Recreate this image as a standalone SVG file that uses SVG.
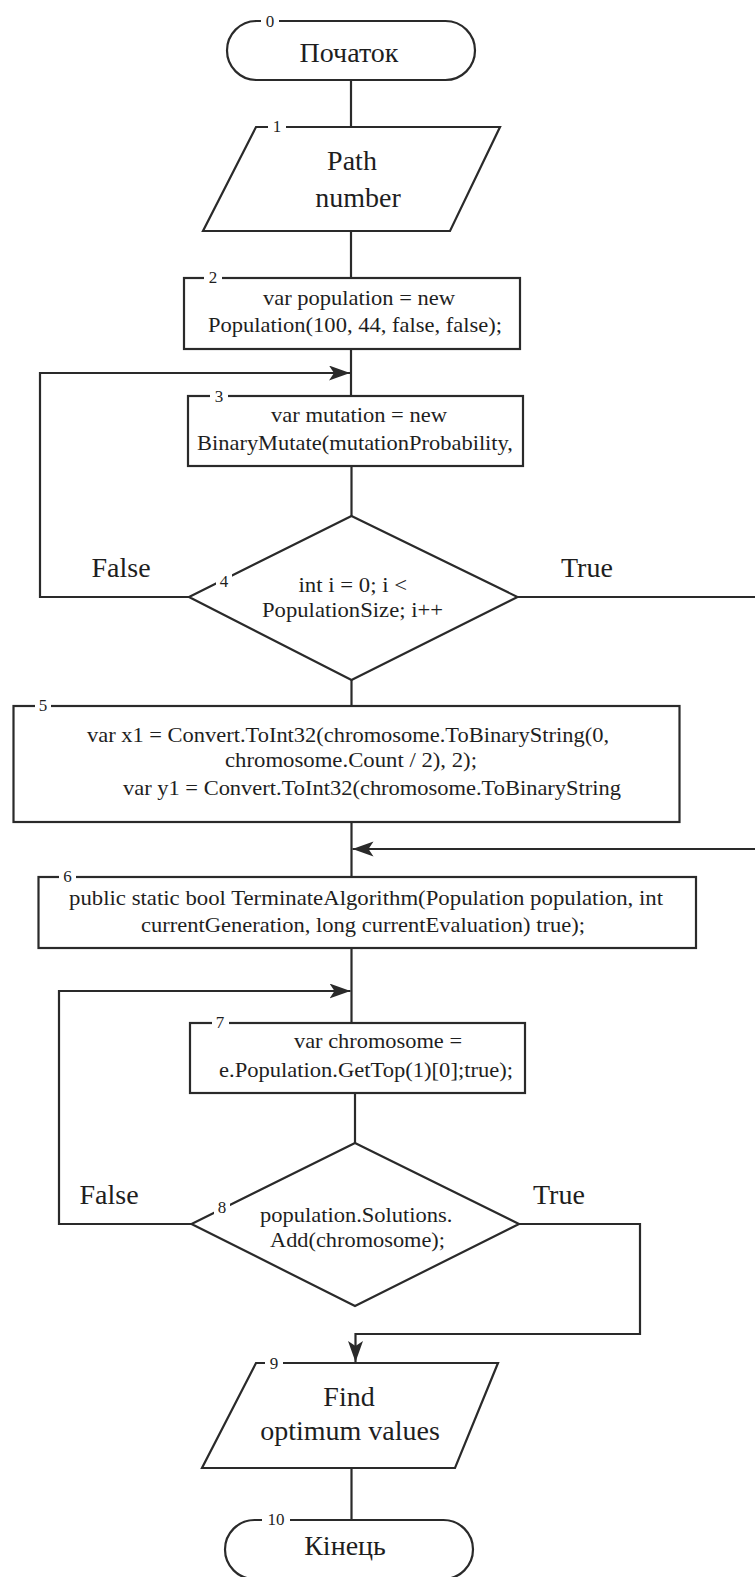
<svg xmlns="http://www.w3.org/2000/svg" width="755" height="1577" viewBox="0 0 755 1577">
<style>
.sh{fill:#fff;stroke:#2a2a2a;stroke-width:2.2}
.ln{fill:none;stroke:#2a2a2a;stroke-width:2.2}
.t{font-family:"Liberation Serif","Times New Roman",serif;fill:#1e1e1e}
.big{font-size:28px}
.code{font-size:22px}
.lab{font-family:"Liberation Serif","Times New Roman",serif;font-size:17px;fill:#1e1e1e;text-anchor:middle}
.bg{fill:#fff}
.c{text-anchor:middle}
</style>
<defs>
<marker id="arr" markerUnits="userSpaceOnUse" markerWidth="22" markerHeight="16" refX="21" refY="7.5" orient="auto">
<path d="M0,0 L21,7.5 L0,15 L5,7.5 Z" fill="#2a2a2a"/>
</marker>
</defs>

<g id="connectors">
<line class="ln" x1="351" y1="80" x2="351" y2="127"/>
<line class="ln" x1="351" y1="231" x2="351" y2="278"/>
<line class="ln" x1="351" y1="349" x2="351" y2="396"/>
<path class="ln" d="M189,597 H40 V373 H350" marker-end="url(#arr)"/>
<line class="ln" x1="351.5" y1="466" x2="351.5" y2="516"/>
<line class="ln" x1="351.5" y1="680" x2="351.5" y2="706"/>
<path class="ln" d="M517.5,597 H758 V849 H352.5" marker-end="url(#arr)"/>
<line class="ln" x1="351.5" y1="822" x2="351.5" y2="877"/>
<line class="ln" x1="351.5" y1="948" x2="351.5" y2="1023"/>
<line class="ln" x1="355" y1="1093" x2="355" y2="1143"/>
<path class="ln" d="M191.5,1224 H59 V991 H350.5" marker-end="url(#arr)"/>
<path class="ln" d="M519,1224 H640 V1334 H355.5 V1362" marker-end="url(#arr)"/>
<line class="ln" x1="351.5" y1="1468" x2="351.5" y2="1520"/>
</g>

<g id="node0">
<rect class="sh" x="227" y="21" width="248" height="59" rx="29.5" ry="29.5"/>
<rect class="bg" x="261" y="13" width="18" height="16"/>
<text class="lab" x="270" y="27">0</text>
<text class="t big c" x="349" y="62">Початок</text>
</g>

<g id="node1">
<polygon class="sh" points="256,127 500,127 450,231 203,231"/>
<rect class="bg" x="268" y="119" width="18" height="16"/>
<text class="lab" x="277" y="132">1</text>
<text class="t big c" x="352" y="170">Path</text>
<text class="t big c" x="358" y="207">number</text>
</g>

<g id="node2">
<rect class="sh" x="184" y="278" width="336" height="71"/>
<rect class="bg" x="204" y="270" width="18" height="16"/>
<text class="lab" x="213" y="283">2</text>
<text class="t code" x="263" y="305" textLength="192" lengthAdjust="spacingAndGlyphs">var population = new</text>
<text class="t code" x="208" y="332" textLength="294" lengthAdjust="spacingAndGlyphs">Population(100, 44, false, false);</text>
</g>

<g id="node3">
<rect class="sh" x="188" y="396" width="335" height="70"/>
<rect class="bg" x="210" y="388" width="18" height="16"/>
<text class="lab" x="219" y="402">3</text>
<text class="t code" x="271" y="422" textLength="176" lengthAdjust="spacingAndGlyphs">var mutation = new</text>
<text class="t code" x="197" y="450" textLength="316" lengthAdjust="spacingAndGlyphs">BinaryMutate(mutationProbability,</text>
</g>

<g id="node4">
<polygon class="sh" points="351.5,516 517.5,597 351.5,680 189,597"/>
<rect class="bg" x="216" y="572" width="16" height="18"/>
<text class="lab" x="224" y="587">4</text>
<text class="t code" x="298.5" y="592" textLength="108.5" lengthAdjust="spacingAndGlyphs">int i = 0; i &lt;</text>
<text class="t code" x="262" y="617" textLength="181" lengthAdjust="spacingAndGlyphs">PopulationSize; i++</text>
<text class="t big" x="91.5" y="577">False</text>
<text class="t big" x="561" y="577">True</text>
</g>

<g id="node5">
<rect class="sh" x="13.5" y="706" width="666" height="116"/>
<rect class="bg" x="35" y="698" width="16" height="16"/>
<text class="lab" x="43" y="711">5</text>
<text class="t code" x="87" y="742" textLength="522" lengthAdjust="spacingAndGlyphs">var x1 = Convert.ToInt32(chromosome.ToBinaryString(0,</text>
<text class="t code" x="225" y="767" textLength="252" lengthAdjust="spacingAndGlyphs">chromosome.Count / 2), 2);</text>
<text class="t code" x="123" y="795" textLength="498" lengthAdjust="spacingAndGlyphs">var y1 = Convert.ToInt32(chromosome.ToBinaryString</text>
</g>

<g id="node6">
<rect class="sh" x="38.5" y="877" width="657.5" height="71"/>
<rect class="bg" x="59" y="869" width="17" height="16"/>
<text class="lab" x="67.5" y="882">6</text>
<text class="t code" x="69" y="905" textLength="594" lengthAdjust="spacingAndGlyphs">public static bool TerminateAlgorithm(Population population,  int</text>
<text class="t code" x="141" y="932" textLength="444" lengthAdjust="spacingAndGlyphs">currentGeneration, long currentEvaluation) true);</text>
</g>

<g id="node7">
<rect class="sh" x="190" y="1023" width="335" height="70"/>
<rect class="bg" x="212" y="1015" width="17" height="16"/>
<text class="lab" x="220" y="1028">7</text>
<text class="t code" x="294" y="1048" textLength="168" lengthAdjust="spacingAndGlyphs">var chromosome =</text>
<text class="t code" x="219" y="1077" textLength="294" lengthAdjust="spacingAndGlyphs">e.Population.GetTop(1)[0];true);</text>
</g>

<g id="node8">
<polygon class="sh" points="355,1143 519,1224 355,1306 191.5,1224"/>
<rect class="bg" x="214" y="1199" width="16" height="18"/>
<text class="lab" x="222" y="1213">8</text>
<text class="t code" x="260" y="1222" textLength="192.5" lengthAdjust="spacingAndGlyphs">population.Solutions.</text>
<text class="t code" x="270" y="1247" textLength="175" lengthAdjust="spacingAndGlyphs">Add(chromosome);</text>
<text class="t big" x="79.5" y="1204">False</text>
<text class="t big" x="533" y="1204">True</text>
</g>

<g id="node9">
<polygon class="sh" points="256,1363 498,1363 455,1468 202,1468"/>
<rect class="bg" x="265" y="1355" width="18" height="16"/>
<text class="lab" x="274" y="1369">9</text>
<text class="t big c" x="349" y="1406">Find</text>
<text class="t big c" x="350" y="1440">optimum values</text>
</g>

<g id="node10">
<rect class="sh" x="225" y="1520" width="248" height="59" rx="29.5" ry="29.5"/>
<rect class="bg" x="262" y="1512" width="28" height="16"/>
<text class="lab" x="276" y="1525">10</text>
<text class="t big c" x="345" y="1555">Кінець</text>
</g>
</svg>
